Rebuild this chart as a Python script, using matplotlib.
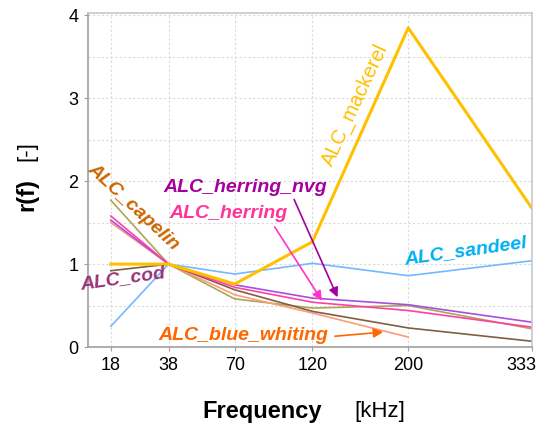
import matplotlib.pyplot as plt
import matplotlib.transforms as mtransforms
import numpy as np

plt.rcParams['font.family'] = ['Liberation Sans', 'DejaVu Sans']

# Frequencies (kHz) and relative frequency response r(f) per species
freqs = [18, 38, 70, 120, 200, 333]
freq_labels = ['18', '38', '70', '120', '200', '333']

mackerel = [1.00, 1.00, 0.76, 1.27, 3.85, 1.68]
sandeel = [0.25, 1.00, 0.88, 1.01, 0.86, 1.04]
cod = [0.92, 1.00, 0.69, 0.43, 0.23, 0.07]
blue_whiting = [1.50, 1.00, 0.63, 0.41, 0.12, np.nan]
capelin = [1.77, 1.00, 0.58, 0.47, 0.50, 0.22]
herring = [1.58, 1.00, 0.72, 0.54, 0.44, 0.24]
herring_nvg = [1.53, 1.00, 0.75, 0.59, 0.51, 0.30]

fig = plt.figure(figsize=(5.39, 4.30), dpi=100)
ax = fig.add_axes([0.163, 0.193, 0.824, 0.777])

ax.set_xscale('function', functions=(np.sqrt, np.square))

ax.plot(freqs, capelin, color='#A8A857', lw=1.2)
ax.plot(freqs, blue_whiting, color='#FF9A7A', lw=1.2)
ax.plot(freqs, cod, color='#7F5F3F', lw=1.2)
ax.plot(freqs, herring_nvg, color='#A84EDD', lw=1.2)
ax.plot(freqs, herring, color='#FF3FA6', lw=1.2)
ax.plot(freqs, sandeel, color='#75B8FF', lw=1.2)
ax.plot(freqs, mackerel, color='#FFC000', lw=2.2)

ax.set_xlim(12.1, 333.5)
ax.set_ylim(0, 4.03)
ax.set_xticks(freqs)
ax.set_xticklabels(freq_labels)
ax.set_yticks([0, 1, 2, 3, 4])
ax.set_yticks([0.5, 1.5, 2.5, 3.5], minor=True)
ax.xaxis.set_minor_locator(plt.NullLocator())
ax.tick_params(axis='both', labelsize=13, length=3, color='#A0A0A0', pad=4)
ax.tick_params(axis='y', which='minor', length=0)
ax.grid(True, which='both', ls=(0, (2, 2)), color='#D9D9D9', lw=0.8)

# keep the last frequency label inside the figure
last = ax.get_xticklabels()[-1]
last.set_transform(last.get_transform() + mtransforms.ScaledTranslation(-10 / 100, 0, fig.dpi_scale_trans))

for s in ax.spines.values():
    s.set_color('#C8C8C8')
    s.set_linewidth(1.2)
ax.spines['bottom'].set_color('#A0A0A0')
ax.spines['left'].set_color('#A0A0A0')

# axis titles: bold quantity, regular unit
fig.text(0.487, 0.042, 'Frequency', fontsize=17, fontweight='bold', ha='center', va='center')
fig.text(0.705, 0.042, '[kHz]', fontsize=16, ha='center', va='center')
fig.text(0.05, 0.547, 'r(f)', fontsize=17, fontweight='bold', rotation=90, ha='center', va='center')
fig.text(0.05, 0.649, '[-]', fontsize=16, rotation=90, ha='center', va='center')

lbl = dict(fontsize=14, fontweight='bold', fontstyle='italic')
ax.text(355 / 539, 1 - 105 / 430, 'ALC_mackerel', transform=fig.transFigure, color='#FFC000',
        fontsize=14.5, rotation=65, ha='center', va='center')
ax.text(133 / 539, 1 - 207 / 430, 'ALC_capelin', transform=fig.transFigure, color='#CC6600',
        rotation=-43, ha='center', va='center', **lbl)
ax.text(245 / 539, 1 - 187 / 430, 'ALC_herring_nvg', transform=fig.transFigure, color='#A3009E',
        ha='center', va='center', **lbl)
ax.text(228 / 539, 1 - 213 / 430, 'ALC_herring', transform=fig.transFigure, color='#FF3399',
        ha='center', va='center', **lbl)
ax.text(466 / 539, 1 - 251 / 430, 'ALC_sandeel', transform=fig.transFigure, color='#00B0F0',
        rotation=8, ha='center', va='center', **lbl)
ax.text(123 / 539, 1 - 279 / 430, 'ALC_cod', transform=fig.transFigure, color='#993377',
        rotation=8, ha='center', va='center', **lbl)
ax.text(243 / 539, 1 - 335 / 430, 'ALC_blue_whiting', transform=fig.transFigure, color='#FF6600',
        ha='center', va='center', **lbl)

# pointer arrows from labels to their curves
ax.annotate('', xy=(139, 0.60), xytext=(107, 1.78),
            arrowprops=dict(arrowstyle='-|>', color='#A3009E', lw=1.2, mutation_scale=14,
                            shrinkA=0, shrinkB=0))
ax.annotate('', xy=(127, 0.56), xytext=(94, 1.45),
            arrowprops=dict(arrowstyle='-|>', color='#FF33CC', lw=1.2, mutation_scale=14,
                            shrinkA=0, shrinkB=0))
ax.annotate('', xy=(177, 0.18), xytext=(137, 0.13),
            arrowprops=dict(arrowstyle='-|>', color='#FF6600', lw=1.2, mutation_scale=14,
                            shrinkA=0, shrinkB=0))

fig.savefig('out.png', dpi=100)
